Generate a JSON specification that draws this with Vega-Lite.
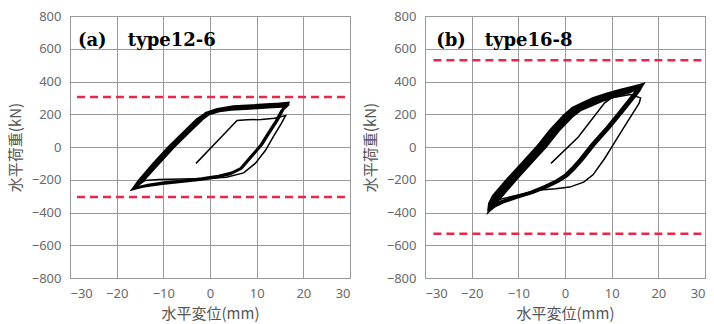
{
  "$schema": "https://vega.github.io/schema/vega-lite/v6.json",
  "background": "white",
  "padding": {"left": 7, "top": 9, "right": 0, "bottom": 0},
  "bounds": "flush",
  "spacing": 75,
  "datasets": {
    "a1": [
      {"i":1,"x":-3,"y":-100},{"i":2,"x":1.7,"y":40},{"i":3,"x":5.8,"y":162},{"i":4,"x":8,"y":166},{"i":5,"x":11,"y":168},{"i":6,"x":13.8,"y":175},{"i":7,"x":16.2,"y":192},
      {"i":8,"x":15.2,"y":140},{"i":9,"x":13.7,"y":70},{"i":10,"x":11.9,"y":-20},{"i":11,"x":9.7,"y":-100},{"i":12,"x":7.2,"y":-158},{"i":13,"x":3.5,"y":-185},{"i":14,"x":-1,"y":-193},{"i":15,"x":-6,"y":-196},{"i":16,"x":-11,"y":-198},{"i":17,"x":-14,"y":-205},{"i":18,"x":-16,"y":-245}
    ],
    "a2": [
      {"i":18,"x":-16,"y":-245},
      {"i":19,"x":-14.2,"y":-200},{"i":20,"x":-11,"y":-100},{"i":21,"x":-7.8,"y":0},{"i":22,"x":-4.2,"y":100},{"i":23,"x":-1.7,"y":170},{"i":24,"x":-0.2,"y":202},{"i":25,"x":2,"y":220},{"i":26,"x":5.3,"y":233},{"i":27,"x":9.3,"y":240},{"i":28,"x":13.3,"y":246},{"i":29,"x":16.3,"y":252},
      {"i":30,"x":15.4,"y":222},{"i":31,"x":14.2,"y":158},{"i":32,"x":12.4,"y":78},{"i":33,"x":10.9,"y":10},{"i":34,"x":8.7,"y":-62},{"i":35,"x":6.6,"y":-132},{"i":36,"x":4.4,"y":-162},{"i":37,"x":1.6,"y":-182},{"i":38,"x":-2,"y":-197},{"i":39,"x":-6,"y":-210},{"i":40,"x":-10,"y":-222},{"i":41,"x":-13.5,"y":-236},{"i":42,"x":-16.3,"y":-252},
      {"i":43,"x":-14.5,"y":-200},{"i":44,"x":-11.3,"y":-100},{"i":45,"x":-8.1,"y":0},{"i":46,"x":-4.5,"y":100},{"i":47,"x":-2,"y":170},{"i":48,"x":-0.5,"y":204},{"i":49,"x":1.7,"y":224},{"i":50,"x":5,"y":238},{"i":51,"x":9,"y":245},{"i":52,"x":13,"y":251},{"i":53,"x":16.5,"y":260},
      {"i":54,"x":15.6,"y":226},{"i":55,"x":14.4,"y":162},{"i":56,"x":12.6,"y":82},{"i":57,"x":11.1,"y":14},{"i":58,"x":8.9,"y":-58},{"i":59,"x":6.8,"y":-128},{"i":60,"x":4.6,"y":-158},{"i":61,"x":1.8,"y":-178},{"i":62,"x":-1.8,"y":-193},{"i":63,"x":-5.8,"y":-206},{"i":64,"x":-9.8,"y":-218},{"i":65,"x":-13.3,"y":-232},{"i":66,"x":-16.4,"y":-254},
      {"i":67,"x":-14.9,"y":-200},{"i":68,"x":-11.7,"y":-100},{"i":69,"x":-8.5,"y":0},{"i":70,"x":-4.9,"y":100},{"i":71,"x":-2.4,"y":170},{"i":72,"x":-0.9,"y":206},{"i":73,"x":1.4,"y":228},{"i":74,"x":4.7,"y":244},{"i":75,"x":8.7,"y":250},{"i":76,"x":12.7,"y":257},{"i":77,"x":16.6,"y":268},
      {"i":78,"x":15.5,"y":224},{"i":79,"x":14.3,"y":160},{"i":80,"x":12.5,"y":80},{"i":81,"x":11,"y":12},{"i":82,"x":8.8,"y":-60},{"i":83,"x":6.7,"y":-130},{"i":84,"x":4.5,"y":-160},{"i":85,"x":1.7,"y":-180},{"i":86,"x":-2,"y":-195},{"i":87,"x":-6,"y":-208},{"i":88,"x":-10,"y":-220},{"i":89,"x":-13.5,"y":-234},{"i":90,"x":-16.5,"y":-257},
      {"i":91,"x":-15.2,"y":-205},{"i":92,"x":-12.1,"y":-102},{"i":93,"x":-8.9,"y":-2},{"i":94,"x":-5.3,"y":98},{"i":95,"x":-2.8,"y":168},{"i":96,"x":-1.1,"y":200},{"i":97,"x":1.2,"y":218},{"i":98,"x":4.5,"y":230},{"i":99,"x":8.5,"y":236},{"i":100,"x":12.5,"y":243},{"i":101,"x":16.4,"y":250},
      {"i":102,"x":15.3,"y":220},{"i":103,"x":14.1,"y":156},{"i":104,"x":12.3,"y":76},{"i":105,"x":10.8,"y":8},{"i":106,"x":8.6,"y":-64},{"i":107,"x":6.5,"y":-134},{"i":108,"x":4.3,"y":-164},{"i":109,"x":1.5,"y":-184},{"i":110,"x":-2.2,"y":-199},{"i":111,"x":-6.2,"y":-212},{"i":112,"x":-10.2,"y":-224},{"i":113,"x":-13.7,"y":-238},{"i":114,"x":-16.2,"y":-250},
      {"i":115,"x":-14.4,"y":-198},{"i":116,"x":-11.3,"y":-98},{"i":117,"x":-8.1,"y":2},{"i":118,"x":-4.5,"y":102},{"i":119,"x":-2,"y":172},{"i":120,"x":-0.5,"y":208},{"i":121,"x":1.6,"y":230},{"i":122,"x":5,"y":246},{"i":123,"x":9,"y":253},{"i":124,"x":13,"y":260},{"i":125,"x":16.5,"y":265},
      {"i":126,"x":15.4,"y":222},{"i":127,"x":14.2,"y":158},{"i":128,"x":12.4,"y":78},{"i":129,"x":11,"y":10}
    ],
    "b1": [
      {"i":1,"x":-3,"y":-100},{"i":2,"x":2.8,"y":60},{"i":3,"x":8.5,"y":270},{"i":4,"x":10,"y":300},{"i":5,"x":14,"y":320},{"i":6,"x":16.2,"y":300},
      {"i":7,"x":15.9,"y":268},{"i":8,"x":13.5,"y":160},{"i":9,"x":11,"y":45},{"i":10,"x":8.5,"y":-70},{"i":11,"x":6,"y":-170},{"i":12,"x":4,"y":-215},{"i":13,"x":1,"y":-245},{"i":14,"x":-2,"y":-255},{"i":15,"x":-5.4,"y":-263},{"i":16,"x":-10,"y":-293},{"i":17,"x":-14.7,"y":-324},{"i":18,"x":-16.2,"y":-385}
    ],
    "b2": [
      {"i":1,"x":-16.4,"y":-392},{"i":2,"x":-16.2,"y":-345},{"i":3,"x":-15.4,"y":-300},{"i":4,"x":-12.4,"y":-200},{"i":5,"x":-9.2,"y":-100},{"i":6,"x":-6,"y":0},{"i":7,"x":-3.2,"y":100},{"i":8,"x":-0.3,"y":190},{"i":9,"x":1.6,"y":237},{"i":10,"x":4,"y":270},{"i":11,"x":6.1,"y":297},{"i":12,"x":9,"y":325},{"i":13,"x":12.1,"y":350},{"i":14,"x":16.5,"y":380},
      {"i":15,"x":15.6,"y":345},{"i":16,"x":14.9,"y":318},{"i":17,"x":12,"y":215},{"i":18,"x":9,"y":110},{"i":19,"x":6,"y":15},{"i":20,"x":3.5,"y":-75},{"i":21,"x":1.8,"y":-130},{"i":22,"x":0.3,"y":-172},{"i":23,"x":-1.6,"y":-207},{"i":24,"x":-4,"y":-240},{"i":25,"x":-7,"y":-275},{"i":26,"x":-10.5,"y":-305},{"i":27,"x":-13.5,"y":-335},{"i":28,"x":-15.3,"y":-362},{"i":29,"x":-16.3,"y":-390},
      {"i":30,"x":-15.9,"y":-345},{"i":31,"x":-14.95,"y":-300},{"i":32,"x":-11.95,"y":-200},{"i":33,"x":-8.75,"y":-100},{"i":34,"x":-5.55,"y":0},{"i":35,"x":-2.75,"y":100},{"i":36,"x":0.15,"y":190},{"i":37,"x":2.05,"y":235},{"i":38,"x":4.45,"y":267},{"i":39,"x":6.55,"y":294},{"i":40,"x":9.45,"y":322},{"i":41,"x":12.55,"y":347},{"i":42,"x":16.6,"y":382},
      {"i":43,"x":15.9,"y":345},{"i":44,"x":15.2,"y":318},{"i":45,"x":12.3,"y":215},{"i":46,"x":9.3,"y":110},{"i":47,"x":6.3,"y":15},{"i":48,"x":3.8,"y":-75},{"i":49,"x":2.1,"y":-130},{"i":50,"x":0.6,"y":-172},{"i":51,"x":-1.3,"y":-207},{"i":52,"x":-3.7,"y":-240},{"i":53,"x":-6.7,"y":-275},{"i":54,"x":-10.2,"y":-305},{"i":55,"x":-13.2,"y":-335},{"i":56,"x":-15.1,"y":-362},{"i":57,"x":-16.2,"y":-388},
      {"i":58,"x":-15.6,"y":-345},{"i":59,"x":-14.5,"y":-300},{"i":60,"x":-11.5,"y":-200},{"i":61,"x":-8.3,"y":-100},{"i":62,"x":-5.1,"y":0},{"i":63,"x":-2.3,"y":100},{"i":64,"x":0.6,"y":190},{"i":65,"x":2.5,"y":234},{"i":66,"x":4.9,"y":264},{"i":67,"x":7,"y":290},{"i":68,"x":9.9,"y":318},{"i":69,"x":13,"y":343},{"i":70,"x":16.6,"y":383},
      {"i":71,"x":15.3,"y":345},{"i":72,"x":14.6,"y":318},{"i":73,"x":11.7,"y":215},{"i":74,"x":8.7,"y":110},{"i":75,"x":5.7,"y":15},{"i":76,"x":3.2,"y":-75},{"i":77,"x":1.5,"y":-130},{"i":78,"x":0,"y":-172},{"i":79,"x":-1.9,"y":-207},{"i":80,"x":-4.3,"y":-240},{"i":81,"x":-7.3,"y":-275},{"i":82,"x":-10.8,"y":-305},{"i":83,"x":-13.8,"y":-335},{"i":84,"x":-15.5,"y":-362},{"i":85,"x":-16.4,"y":-393},
      {"i":86,"x":-15.3,"y":-345},{"i":87,"x":-14.05,"y":-300},{"i":88,"x":-11.05,"y":-200},{"i":89,"x":-7.85,"y":-100},{"i":90,"x":-4.65,"y":0},{"i":91,"x":-1.85,"y":100},{"i":92,"x":1.05,"y":188},{"i":93,"x":2.95,"y":231},{"i":94,"x":5.35,"y":260},{"i":95,"x":7.45,"y":286},{"i":96,"x":10.35,"y":314},{"i":97,"x":13.45,"y":340},{"i":98,"x":16.5,"y":376},
      {"i":99,"x":15.7,"y":342},{"i":100,"x":15.1,"y":315},{"i":101,"x":12.2,"y":212},{"i":102,"x":9.2,"y":107},{"i":103,"x":6.2,"y":12},{"i":104,"x":3.7,"y":-78},{"i":105,"x":2,"y":-133},{"i":106,"x":0.5,"y":-175},{"i":107,"x":-1.4,"y":-210},{"i":108,"x":-3.8,"y":-243},{"i":109,"x":-6.8,"y":-278},{"i":110,"x":-10.3,"y":-308},{"i":111,"x":-13.3,"y":-338},{"i":112,"x":-15.2,"y":-364},{"i":113,"x":-16.2,"y":-386},
      {"i":114,"x":-15,"y":-345},{"i":115,"x":-13.6,"y":-300},{"i":116,"x":-10.6,"y":-200},{"i":117,"x":-7.4,"y":-100},{"i":118,"x":-4.2,"y":0},{"i":119,"x":-1.4,"y":100},{"i":120,"x":1.5,"y":186},{"i":121,"x":3.4,"y":228},{"i":122,"x":5.8,"y":256},{"i":123,"x":7.9,"y":282},{"i":124,"x":10.8,"y":310},{"i":125,"x":13.9,"y":336},{"i":126,"x":16.4,"y":372}
    ]
  },
  "config": {
    "view": {"stroke": "#8c8c8c", "strokeWidth": 1},
    "axis": {
      "grid": true, "gridColor": "#9a9a9a", "gridWidth": 1,
      "domain": false, "ticks": false, "labelOverlap": false,
      "labelFont": "Noto Sans", "labelFontSize": 13, "labelColor": "#6a6a6a", "labelPadding": 9,
      "titleFont": "Noto Sans CJK JP", "titleFontSize": 15, "titleFontWeight": "normal", "titleColor": "#555555"
    },
    "axisX": {"titlePadding": 6},
    "axisY": {"titlePadding": 8}
  },
  "hconcat": [
    {
      "width": 280, "height": 262,
      "layer": [
        {
          "data": {"name": "a2"},
          "mark": {"type": "line", "color": "black", "strokeWidth": 2.7, "clip": true},
          "encoding": {
            "x": {"field": "x", "type": "quantitative", "scale": {"domain": [-30, 30], "nice": false}, "axis": {"values": [-30, -20, -10, 0, 10, 20, 30], "title": "水平変位(mm)"}},
            "y": {"field": "y", "type": "quantitative", "scale": {"domain": [-800, 800], "nice": false}, "axis": {"values": [-800, -600, -400, -200, 0, 200, 400, 600, 800], "title": "水平荷重(kN)"}},
            "order": {"field": "i", "type": "quantitative"}
          }
        },
        {
          "data": {"name": "a1"},
          "mark": {"type": "line", "color": "black", "strokeWidth": 1.5, "clip": true},
          "encoding": {
            "x": {"field": "x", "type": "quantitative", "axis": {"values": [-30, -20, -10, 0, 10, 20, 30], "title": "水平変位(mm)"}},
            "y": {"field": "y", "type": "quantitative", "axis": {"values": [-800, -600, -400, -200, 0, 200, 400, 600, 800], "title": "水平荷重(kN)"}},
            "order": {"field": "i", "type": "quantitative"}
          }
        },
        {
          "data": {"values": [{"y": 305}, {"y": -305}]},
          "mark": {"type": "rule", "color": "#e8284a", "strokeDash": [8, 5], "strokeWidth": 2.5},
          "encoding": {
            "y": {"field": "y", "type": "quantitative", "axis": {"values": [-800, -600, -400, -200, 0, 200, 400, 600, 800], "title": "水平荷重(kN)"}},
            "x": {"datum": -28.5, "type": "quantitative", "axis": {"values": [-30, -20, -10, 0, 10, 20, 30], "title": "水平変位(mm)"}},
            "x2": {"datum": 30}
          }
        },
        {
          "data": {"values": [{"label": "(a)", "x": -28.3}, {"label": "type12-6", "x": -17.6}]},
          "mark": {"type": "text", "font": "DejaVu Serif", "fontWeight": "bold", "fontSize": 18, "align": "left", "baseline": "alphabetic", "color": "black"},
          "encoding": {
            "x": {"field": "x", "type": "quantitative", "axis": {"values": [-30, -20, -10, 0, 10, 20, 30], "title": "水平変位(mm)"}},
            "y": {"datum": 618, "type": "quantitative", "axis": {"values": [-800, -600, -400, -200, 0, 200, 400, 600, 800], "title": "水平荷重(kN)"}},
            "text": {"field": "label"}
          }
        }
      ]
    },
    {
      "width": 280, "height": 262,
      "layer": [
        {
          "data": {"name": "b2"},
          "mark": {"type": "line", "color": "black", "strokeWidth": 2.7, "clip": true},
          "encoding": {
            "x": {"field": "x", "type": "quantitative", "scale": {"domain": [-30, 30], "nice": false}, "axis": {"values": [-30, -20, -10, 0, 10, 20, 30], "title": "水平変位(mm)"}},
            "y": {"field": "y", "type": "quantitative", "scale": {"domain": [-800, 800], "nice": false}, "axis": {"values": [-800, -600, -400, -200, 0, 200, 400, 600, 800], "title": "水平荷重(kN)"}},
            "order": {"field": "i", "type": "quantitative"}
          }
        },
        {
          "data": {"name": "b1"},
          "mark": {"type": "line", "color": "black", "strokeWidth": 1.5, "clip": true},
          "encoding": {
            "x": {"field": "x", "type": "quantitative", "axis": {"values": [-30, -20, -10, 0, 10, 20, 30], "title": "水平変位(mm)"}},
            "y": {"field": "y", "type": "quantitative", "axis": {"values": [-800, -600, -400, -200, 0, 200, 400, 600, 800], "title": "水平荷重(kN)"}},
            "order": {"field": "i", "type": "quantitative"}
          }
        },
        {
          "data": {"values": [{"y": 530}, {"y": -530}]},
          "mark": {"type": "rule", "color": "#e8284a", "strokeDash": [8, 5], "strokeWidth": 2.5},
          "encoding": {
            "y": {"field": "y", "type": "quantitative", "axis": {"values": [-800, -600, -400, -200, 0, 200, 400, 600, 800], "title": "水平荷重(kN)"}},
            "x": {"datum": -28.2, "type": "quantitative", "axis": {"values": [-30, -20, -10, 0, 10, 20, 30], "title": "水平変位(mm)"}},
            "x2": {"datum": 30}
          }
        },
        {
          "data": {"values": [{"label": "(b)", "x": -27.6}, {"label": "type16-8", "x": -17.2}]},
          "mark": {"type": "text", "font": "DejaVu Serif", "fontWeight": "bold", "fontSize": 18, "align": "left", "baseline": "alphabetic", "color": "black"},
          "encoding": {
            "x": {"field": "x", "type": "quantitative", "axis": {"values": [-30, -20, -10, 0, 10, 20, 30], "title": "水平変位(mm)"}},
            "y": {"datum": 618, "type": "quantitative", "axis": {"values": [-800, -600, -400, -200, 0, 200, 400, 600, 800], "title": "水平荷重(kN)"}},
            "text": {"field": "label"}
          }
        }
      ]
    }
  ]
}
